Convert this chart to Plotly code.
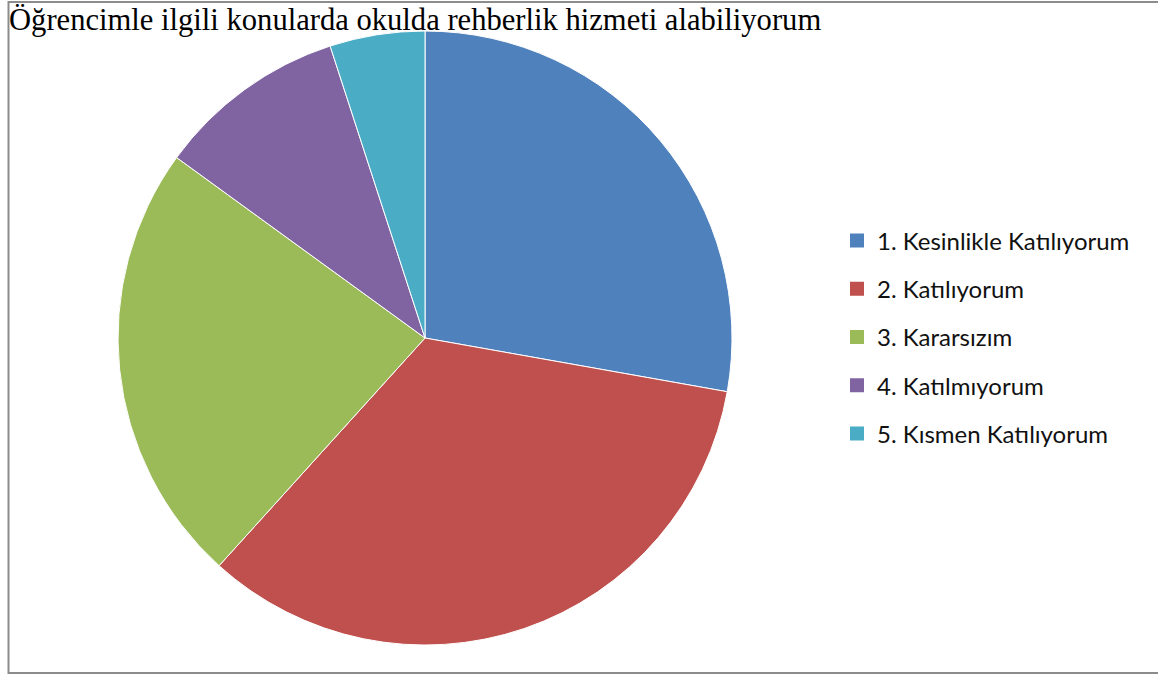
import plotly.graph_objects as go

title_text = "Öğrencimle ilgili konularda okulda rehberlik hizmeti alabiliyorum"
categories = ["1. Kesinlikle Katılıyorum", "2. Katılıyorum", "3. Kararsızım",
              "4. Katılmıyorum", "5. Kısmen Katılıyorum"]
values = [27.8, 33.9, 23.3, 10.0, 5.0]
colors = ["#4F81BD", "#C0504D", "#9BBB59", "#8064A2", "#4BACC6"]

W, H = 1158, 677

fig = go.Figure()
fig.add_trace(go.Pie(
    labels=categories, values=values, sort=False, direction="clockwise",
    rotation=0, marker=dict(colors=colors, line=dict(color="white", width=1)),
    textinfo="none", showlegend=False,
    domain=dict(x=[118 / W, 732 / W], y=[1 - 645 / H, 1 - 31 / H]),
))
# legend entries
for i, (c, col) in enumerate(zip(categories, colors)):
    fig.add_trace(go.Scatter(x=[None], y=[None], mode="markers", name=c,
                             legendgroup=f"g{i}",
                             marker=dict(symbol="square", size=14, color=col),
                             showlegend=True))

fig.update_layout(
    width=W, height=H, margin=dict(l=0, r=0, t=0, b=0),
    paper_bgcolor="white", plot_bgcolor="white",
    xaxis=dict(visible=False), yaxis=dict(visible=False),
    legend=dict(x=837 / W, y=1 - 337 / H, xanchor="left", yanchor="middle",
                font=dict(family="Lato", size=24, color="#111"),
                tracegroupgap=14, itemwidth=30, bgcolor="rgba(0,0,0,0)"),
    shapes=[dict(type="rect", xref="paper", yref="paper",
                 x0=8.5 / W, x1=1.01, y0=1 - 673 / H, y1=1 - 2 / H,
                 line=dict(color="#8c8c8c", width=2), fillcolor="rgba(0,0,0,0)")],
    annotations=[dict(text=title_text, xref="paper", yref="paper",
                      x=7 / W, y=1 - 1 / H, xanchor="left", yanchor="top",
                      showarrow=False,
                      font=dict(family="Liberation Serif", size=30.6, color="black"))],
)
fig.write_html("out.html", config={"displayModeBar": False},
               post_script="document.body.style.margin='0';document.body.style.overflow='hidden';")
